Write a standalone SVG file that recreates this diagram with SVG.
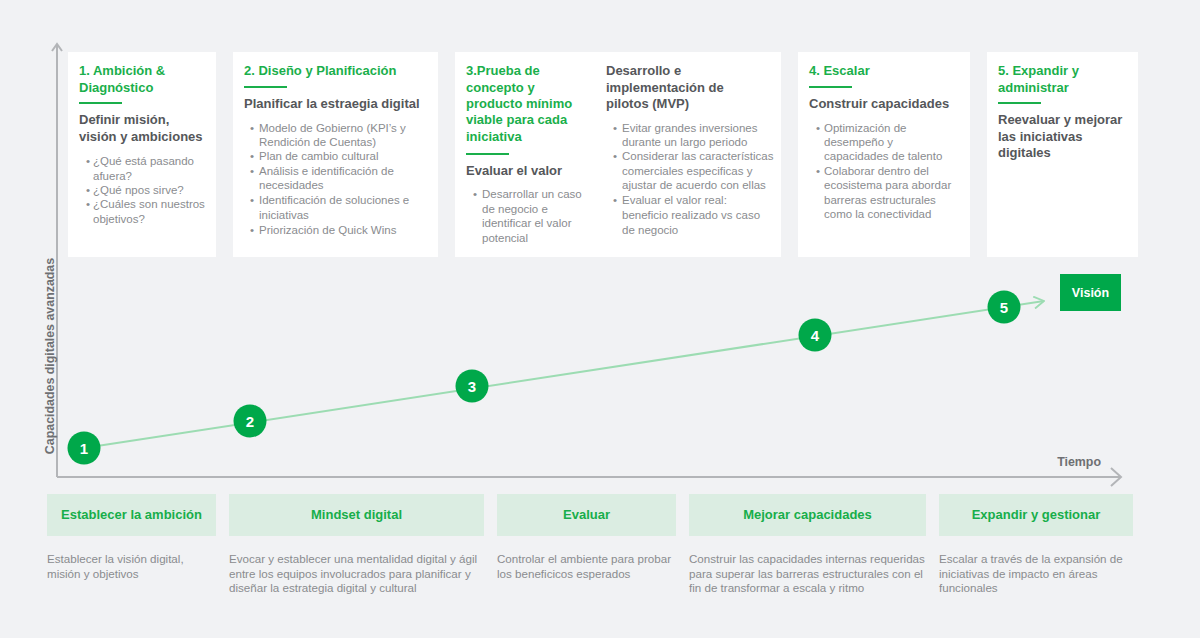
<svg xmlns="http://www.w3.org/2000/svg" width="1200" height="638" viewBox="0 0 1200 638">
<defs>
<style>
.bg{fill:#f1f2f4}
.card{fill:#ffffff}
.t{font-family:"Liberation Sans",Arial,sans-serif;font-size:13px;font-weight:bold;fill:#1aaf4b}
.s{font-family:"Liberation Sans",Arial,sans-serif;font-size:13px;font-weight:bold;fill:#55575a}
.b{font-family:"Liberation Sans",Arial,sans-serif;font-size:11.5px;fill:#8a8c8f}
.ul{fill:#1aaf4b}
.ax{stroke:#b3b5b8;stroke-width:2;fill:none}
.axl{font-family:"Liberation Sans",Arial,sans-serif;font-size:12.4px;font-weight:bold;fill:#6e7073}
.trend{stroke:#9cdcb2;stroke-width:2;fill:none}
.dot{fill:#00a84a}
.num{font-family:"Liberation Sans",Arial,sans-serif;font-size:15px;font-weight:bold;fill:#ffffff;text-anchor:middle}
.pbox{fill:#dbede2}
.pt{font-family:"Liberation Sans",Arial,sans-serif;font-size:13px;font-weight:bold;fill:#17ae4a;text-anchor:middle}
.pd{font-family:"Liberation Sans",Arial,sans-serif;font-size:11.6px;fill:#8a8c8f}
</style>
<marker id="chev" viewBox="0 0 12 14" refX="11" refY="7" markerWidth="12" markerHeight="14" markerUnits="userSpaceOnUse" orient="auto">
<path d="M1,1 L11,7 L1,13" fill="none" stroke="#9cdcb2" stroke-width="1.8"/>
</marker>
</defs>
<rect class="bg" x="0" y="0" width="1200" height="638"/>

<g id="axes">
<path class="ax" d="M57,477 L57,44"/>
<path class="ax" d="M52,51 L57,44 L62,51"/>
<path class="ax" d="M57,477 L1121,477"/>
<path class="ax" d="M1111,468 L1121,477 L1111,486"/>
<text class="axl" transform="translate(54,356) rotate(-90)" text-anchor="middle">Capacidades digitales avanzadas</text>
<text class="axl" x="1101" y="466" text-anchor="end">Tiempo</text>
</g>

<g id="card1">
<rect class="card" x="68" y="52" width="148" height="205"/>
<text class="t" x="79" y="75">1. Ambición &amp;</text>
<text class="t" x="79" y="92">Diagnóstico</text>
<rect class="ul" x="79" y="102" width="43" height="2"/>
<text class="s" x="79" y="124">Definir misión,</text>
<text class="s" x="79" y="141">visión y ambiciones</text>
<text class="b" x="86" y="165">•</text><text class="b" x="93" y="165">¿Qué está pasando</text>
<text class="b" x="93" y="180">afuera?</text>
<text class="b" x="86" y="194">•</text><text class="b" x="93" y="194">¿Qué npos sirve?</text>
<text class="b" x="86" y="208">•</text><text class="b" x="93" y="208">¿Cuáles son nuestros</text>
<text class="b" x="93" y="223">objetivos?</text>
</g>

<g id="card2">
<rect class="card" x="233" y="52" width="205" height="205"/>
<text class="t" x="244" y="75">2. Diseño y Planificación</text>
<rect class="ul" x="244" y="86" width="43" height="2"/>
<text class="s" x="244" y="108">Planificar la estraegia digital</text>
<text class="b" x="250" y="132">•</text><text class="b" x="259" y="132">Modelo de Gobierno (KPI’s y</text>
<text class="b" x="259" y="146">Rendición de Cuentas)</text>
<text class="b" x="250" y="160">•</text><text class="b" x="259" y="160">Plan de cambio cultural</text>
<text class="b" x="250" y="175">•</text><text class="b" x="259" y="175">Análisis e identificación de</text>
<text class="b" x="259" y="189">necesidades</text>
<text class="b" x="250" y="204">•</text><text class="b" x="259" y="204">Identificación de soluciones e</text>
<text class="b" x="259" y="219">iniciativas</text>
<text class="b" x="250" y="234">•</text><text class="b" x="259" y="234">Priorización de Quick Wins</text>
</g>

<g id="card3">
<rect class="card" x="455" y="52" width="326" height="205"/>
<text class="t" x="466" y="75">3.Prueba de</text>
<text class="t" x="466" y="92">concepto y</text>
<text class="t" x="466" y="108">producto mínimo</text>
<text class="t" x="466" y="124">viable para cada</text>
<text class="t" x="466" y="141">iniciativa</text>
<rect class="ul" x="466" y="153" width="43" height="2"/>
<text class="s" x="466" y="175">Evaluar el valor</text>
<text class="b" x="473" y="198">•</text><text class="b" x="482" y="198">Desarrollar un caso</text>
<text class="b" x="482" y="213">de negocio e</text>
<text class="b" x="482" y="227">identificar el valor</text>
<text class="b" x="482" y="242">potencial</text>
<text class="s" x="606" y="75">Desarrollo e</text>
<text class="s" x="606" y="92">implementación de</text>
<text class="s" x="606" y="108">pilotos (MVP)</text>
<text class="b" x="613" y="132">•</text><text class="b" x="622" y="132">Evitar grandes inversiones</text>
<text class="b" x="622" y="146">durante un largo periodo</text>
<text class="b" x="613" y="160">•</text><text class="b" x="622" y="160">Considerar las características</text>
<text class="b" x="622" y="175">comerciales especificas y</text>
<text class="b" x="622" y="189">ajustar de acuerdo con ellas</text>
<text class="b" x="613" y="204">•</text><text class="b" x="622" y="204">Evaluar el valor real:</text>
<text class="b" x="622" y="219">beneficio realizado vs caso</text>
<text class="b" x="622" y="234">de negocio</text>
</g>

<g id="card4">
<rect class="card" x="798" y="52" width="172" height="205"/>
<text class="t" x="809" y="75">4. Escalar</text>
<rect class="ul" x="809" y="86" width="43" height="2"/>
<text class="s" x="809" y="108">Construir capacidades</text>
<text class="b" x="816" y="132">•</text><text class="b" x="824" y="132">Optimización de</text>
<text class="b" x="824" y="146">desempeño y</text>
<text class="b" x="824" y="160">capacidades de talento</text>
<text class="b" x="816" y="175">•</text><text class="b" x="824" y="175">Colaborar dentro del</text>
<text class="b" x="824" y="189">ecosistema para abordar</text>
<text class="b" x="824" y="204">barreras estructurales</text>
<text class="b" x="824" y="218">como la conectividad</text>
</g>

<g id="card5">
<rect class="card" x="987" y="52" width="151" height="205"/>
<text class="t" x="998" y="75">5. Expandir y</text>
<text class="t" x="998" y="92">administrar</text>
<rect class="ul" x="998" y="102" width="43" height="2"/>
<text class="s" x="998" y="124">Reevaluar y mejorar</text>
<text class="s" x="998" y="141">las iniciativas</text>
<text class="s" x="998" y="157">digitales</text>
</g>

<g id="connectors">
<line class="trend" x1="84" y1="448" x2="1044" y2="301" marker-end="url(#chev)"/>
</g>

<g id="step1"><circle class="dot" cx="84" cy="448" r="16.5"/><text class="num" x="84" y="453.5">1</text></g>
<g id="step2"><circle class="dot" cx="250" cy="421" r="16.5"/><text class="num" x="250" y="426.5">2</text></g>
<g id="step3"><circle class="dot" cx="472" cy="386" r="16.5"/><text class="num" x="472" y="391.5">3</text></g>
<g id="step4"><circle class="dot" cx="815" cy="335" r="16.5"/><text class="num" x="815" y="340.5">4</text></g>
<g id="step5"><circle class="dot" cx="1004" cy="307" r="16.5"/><text class="num" x="1004" y="312.5">5</text></g>

<g id="vision">
<rect x="1060" y="274" width="61" height="37" fill="#00a84a"/>
<text x="1090.5" y="297" text-anchor="middle" font-family="'Liberation Sans',Arial,sans-serif" font-size="12.5" font-weight="bold" fill="#ffffff">Visión</text>
</g>

<g id="phase1">
<rect class="pbox" x="47" y="494" width="169" height="42"/>
<text class="pt" x="131.5" y="519">Establecer la ambición</text>
<text class="pd" x="47" y="563">Establecer la visión digital,</text>
<text class="pd" x="47" y="578">misión y objetivos</text>
</g>
<g id="phase2">
<rect class="pbox" x="229" y="494" width="255" height="42"/>
<text class="pt" x="356.5" y="519">Mindset digital</text>
<text class="pd" x="229" y="563">Evocar y establecer una mentalidad digital y ágil</text>
<text class="pd" x="229" y="578">entre los equipos involucrados para planificar y</text>
<text class="pd" x="229" y="592">diseñar la estrategia digital y cultural</text>
</g>
<g id="phase3">
<rect class="pbox" x="497" y="494" width="179" height="42"/>
<text class="pt" x="586.5" y="519">Evaluar</text>
<text class="pd" x="497" y="563">Controlar el ambiente para probar</text>
<text class="pd" x="497" y="578">los beneficicos esperados</text>
</g>
<g id="phase4">
<rect class="pbox" x="689" y="494" width="237" height="42"/>
<text class="pt" x="807.5" y="519">Mejorar capacidades</text>
<text class="pd" x="689" y="563">Construir las capacidades internas requeridas</text>
<text class="pd" x="689" y="578">para superar las barreras estructurales con el</text>
<text class="pd" x="689" y="592">fin de transformar a escala y ritmo</text>
</g>
<g id="phase5">
<rect class="pbox" x="939" y="494" width="194" height="42"/>
<text class="pt" x="1036" y="519">Expandir y gestionar</text>
<text class="pd" x="939" y="563">Escalar a través de la expansión de</text>
<text class="pd" x="939" y="578">iniciativas de impacto en áreas</text>
<text class="pd" x="939" y="592">funcionales</text>
</g>
</svg>
